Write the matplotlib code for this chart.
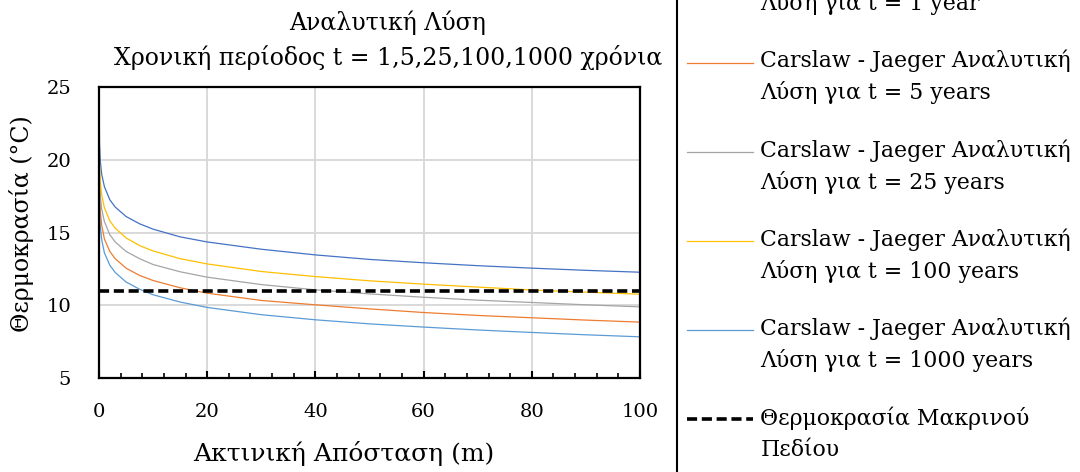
import numpy as np
import matplotlib
matplotlib.use("Agg")
import matplotlib.pyplot as plt
from matplotlib.lines import Line2D
from matplotlib.legend_handler import HandlerLine2D
from matplotlib.ticker import MultipleLocator

plt.rcParams['font.family'] = ['DejaVu Serif']

# radial distance (m)
r = [0.01, 0.1, 0.25, 0.5, 1, 2, 3, 5, 7.5, 10, 15, 20, 30, 40, 50, 60, 70, 80, 90, 100]

# temperatures (C)
t_1yr = [24.0, 21.1, 19.9, 19.0, 18.15, 17.25, 16.75, 16.1, 15.6, 15.23, 14.7, 14.35,
         13.85, 13.46, 13.15, 12.92, 12.72, 12.55, 12.4, 12.27]
t_5yr = [20.3, 17.5, 16.4, 15.5, 14.55, 13.7, 13.2, 12.55, 12.05, 11.7, 11.2, 10.83,
         10.33, 10.03, 9.75, 9.5, 9.3, 9.14, 8.98, 8.84]
t_25yr = [21.6, 18.7, 17.5, 16.6, 15.75, 14.85, 14.35, 13.7, 13.2, 12.8, 12.3, 11.93,
          11.42, 11.06, 10.78, 10.55, 10.35, 10.19, 10.03, 9.89]
t_100yr = [22.6, 19.6, 18.4, 17.6, 16.7, 15.8, 15.3, 14.63, 14.1, 13.73, 13.2, 12.84,
           12.32, 11.97, 11.68, 11.45, 11.25, 11.05, 10.9, 10.76]
t_1000yr = [19.4, 16.5, 15.4, 14.5, 13.6, 12.75, 12.25, 11.6, 11.1, 10.72, 10.22, 9.85,
            9.35, 9.0, 8.72, 8.5, 8.3, 8.13, 7.97, 7.83]
far_field = 11.0

series = [t_1yr, t_5yr, t_25yr, t_100yr, t_1000yr]
periods = ["1 year", "5 years", "25 years", "100 years", "1000 years"]
colors = ["#4472C4", "#ED7D31", "#A5A5A5", "#FFC000", "#5B9BD5"]


class FirstLineHandler(HandlerLine2D):
    # put the legend sample next to the first text line
    def create_artists(self, *args, **kwargs):
        arts = super().create_artists(*args, **kwargs)
        for a in arts:
            a.set_ydata(np.asarray(a.get_ydata()) + 11)
        return arts


fig = plt.figure(figsize=(10.8, 4.72), dpi=100)
ax = fig.add_axes([99 / 1080, 1 - 378 / 472, 541 / 1080, 291 / 472])

for vals, p, c in zip(series, periods, colors):
    ax.plot(r, vals, color=c, lw=0.9,
            label="Carslaw - Jaeger Αναλυτική\nΛύση για t = " + p)
ax.axhline(far_field, color="black", lw=2.6, dashes=(2.8, 1.3),
           label="Θερμοκρασία Μακρινού\nΠεδίου")

ax.set_xlim(0, 100)
ax.set_ylim(5, 25)
ax.xaxis.set_major_locator(MultipleLocator(20))
ax.xaxis.set_minor_locator(MultipleLocator(4))
ax.yaxis.set_major_locator(MultipleLocator(5))
ax.grid(True, color="#D9D9D9", lw=1.4)
ax.set_axisbelow(True)
for s in ax.spines.values():
    s.set_linewidth(1.6)
    s.set_color("black")
ax.tick_params(axis="x", which="major", direction="in", length=5, width=1.5,
               labelsize=14, pad=18)
ax.tick_params(axis="x", which="minor", direction="in", length=3.5, width=1.2)
ax.tick_params(axis="y", length=0, labelsize=14, pad=20)

ax.set_xlabel("Ακτινική Απόσταση (m)", fontsize=18, va="center")
ax.xaxis.set_label_coords((344 - 99) / 541, (378 - 453) / 291)
ax.set_ylabel("Θερμοκρασία (°C)", fontsize=17, va="center")
ax.yaxis.set_label_coords((22 - 99) / 541, (378 - 224) / 291)

fig.text(388 / 1080, 1 - 23 / 472, "Αναλυτική Λύση", ha="center", va="center", fontsize=17)
fig.text(388 / 1080, 1 - 57 / 472, "Χρονική περίοδος t = 1,5,25,100,1000 χρόνια",
         ha="center", va="center", fontsize=17)

handles, labels = ax.get_legend_handles_labels()
leg = fig.legend(handles, labels, loc="upper left", bbox_to_anchor=(678 / 1080, 1 + 48 / 472),
                 frameon=False, fontsize=15.8, handlelength=3.0, handletextpad=0.35,
                 labelspacing=1.58, borderaxespad=0,
                 handler_map={Line2D: FirstLineHandler()})
for t in leg.get_texts():
    t.set_linespacing(1.5)

fig.add_artist(Line2D([677 / 1080, 677 / 1080], [0, 1], transform=fig.transFigure,
                      color="black", lw=1.5))

fig.savefig("out.png", dpi=100)
